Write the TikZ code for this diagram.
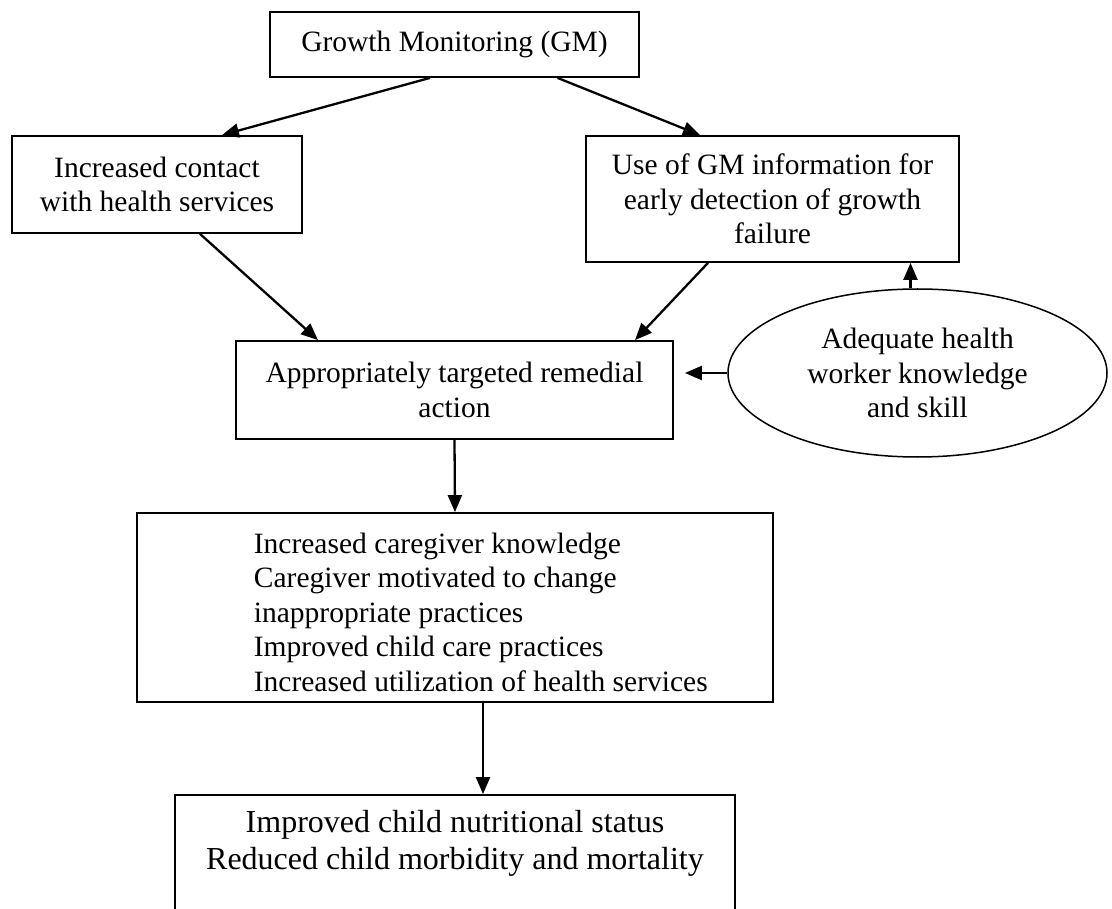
\documentclass[tikz,border=0pt]{standalone}
\usepackage{fontspec}
\setmainfont{Liberation Serif}
\usetikzlibrary{arrows.meta, calc, shapes.geometric}

\begin{document}
\begin{tikzpicture}[x=1pt, y=-1pt,
                    box/.style={draw, line width=1.8pt, inner sep=0pt, align=center, font=\fontsize{29.5}{34.5}\selectfont},
                    flow/.style={line width=2.3pt, -{Triangle[length=17pt, width=14pt]}}]
                  \useasboundingbox (0, 0) rectangle (1112, 909);
                  \clip (0, 0) rectangle (1112, 909);

                  \node[box, minimum width=369pt, minimum height=65pt] (gm) at (454.5, 44.5) {Growth Monitoring (GM)};
                  \node[box, minimum width=290pt, minimum height=97pt] (contact) at (157, 184.5) {Increased contact\\with health services};
                  \node[box, minimum width=373pt, minimum height=126pt] (info) at (772.5, 199) {Use of GM information for\\early detection of growth\\failure};
                  \node[box, minimum width=437pt, minimum height=98pt] (remedial) at (454.5, 390) {Appropriately targeted remedial\\action};
                  \node[box, ellipse, line width=1.5pt, minimum width=379pt, minimum height=168pt] (skill) at (917.5, 373) {Adequate health\\worker knowledge\\and skill};
                  \node[box, minimum width=636pt, minimum height=189pt] (care) at (455, 607.5) {};
                  \node[box, draw=none, anchor=west, align=left] (caretext) at (253, 612) {Increased caregiver knowledge\\Caregiver motivated to change\\inappropriate practices\\Improved child care practices\\Increased utilization of health services};
                  \node[box, minimum width=560pt, minimum height=140pt] (outcome) at (455, 865) {};
                  \node[box, draw=none, font=\fontsize{32}{37}\selectfont] (outtext) at (455, 843) {Improved child nutritional status\\Reduced child morbidity and mortality};

                  \draw[flow] ([xshift=-24.5pt]gm.south) -- ([xshift=65pt]contact.north);
                  \draw[flow] ([xshift=103pt]gm.south) -- ([xshift=-72.5pt]info.north);
                  \draw[flow] ([xshift=43pt]contact.south) -- ([xshift=-136.5pt]remedial.north);
                  \draw[flow] ([xshift=-64.5pt]info.south) -- ([xshift=180.5pt]remedial.north);
                  \draw[flow] (skill.west) -- ($(skill.west -| remedial.east)+(11, 0)$);
                  \draw[flow] ([xshift=-7pt]skill.north) -- ([xshift=-7pt]skill.north |- info.south);
                  \draw[flow] (remedial.south) -- (care.north);
                  \draw[flow] ([xshift=28pt]care.south) -- ([xshift=28pt]outcome.north);
              \end{tikzpicture}
\end{document}
